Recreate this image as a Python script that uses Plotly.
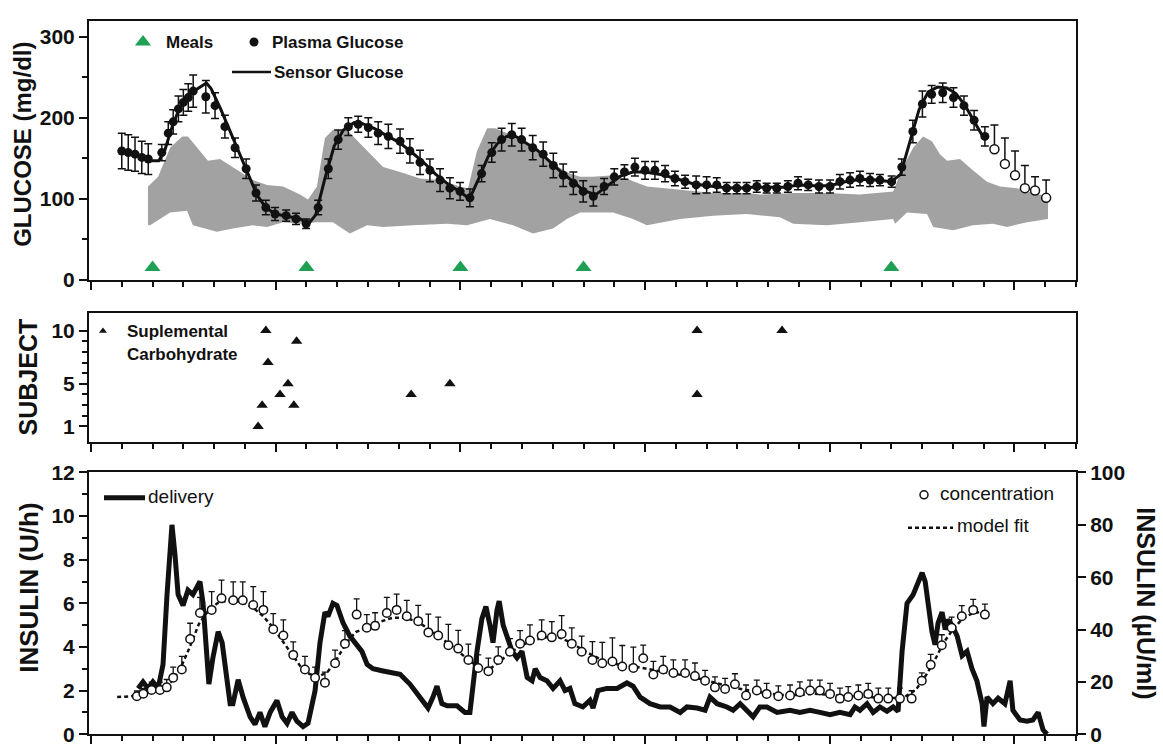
import plotly.graph_objects as go

# ---------------- data (time in hours from start of study) ----------------
meal_t = [2.0, 7.0, 12.0, 16.0, 26.0]
meal_y = [15, 15, 15, 15, 15]

plasma_t = [1.00, 1.21, 1.43, 1.65, 1.86, 2.30, 2.51, 2.67, 2.84, 3.00, 3.16, 3.32, 3.73, 4.03,
            4.35, 4.68, 5.04, 5.36, 5.68, 5.98, 6.34, 6.66, 6.99, 7.38, 7.71, 8.03, 8.36, 8.68,
            9.01, 9.33, 9.66, 10.04, 10.36, 10.69, 11.01, 11.34, 11.66, 11.99, 12.31, 12.69,
            13.02, 13.34, 13.67, 13.99, 14.35, 14.69, 15.02, 15.34, 15.67, 15.99, 16.32, 16.67,
            17.00, 17.33, 17.67, 18.00, 18.32, 18.65, 18.97, 19.30, 19.66, 20.00, 20.33, 20.65,
            20.98, 21.30, 21.63, 21.95, 22.28, 22.64, 22.97, 23.30, 23.65, 24.01, 24.33, 24.66,
            24.98, 25.31, 25.63, 26.01, 26.34, 26.70, 27.01, 27.31, 27.67, 28.02, 28.36, 28.69,
            29.04]
plasma_mgdl = [159, 157, 155, 151, 149, 157, 181, 195, 211, 219, 225, 233, 226, 215,
               189, 163, 137, 107, 89, 81, 79, 75, 69, 89, 137, 173, 189, 192,
               188, 181, 177, 171, 159, 145, 135, 123, 113, 109, 101, 131,
               157, 173, 179, 173, 163, 155, 141, 129, 119, 109, 103, 115,
               127, 133, 139, 135, 135, 131, 125, 121, 117, 117, 117, 113,
               113, 113, 115, 113, 113, 115, 119, 117, 115, 115, 121, 123,
               125, 123, 123, 121, 139, 183, 217, 229, 231, 225, 215, 197,
               177]
plasma_err = [22, 22, 21, 20, 19, 10, 14, 15, 16, 16, 17, 20, 20, 16,
              14, 12, 12, 10, 9, 8, 7, 7, 6, 9, 12, 12, 11, 10,
              12, 14, 15, 15, 15, 15, 14, 14, 13, 11, 11, 10,
              12, 14, 14, 14, 15, 15, 15, 14, 14, 13, 12, 10,
              10, 9, 11, 11, 11, 10, 9, 8, 11, 10, 9, 7,
              7, 7, 7, 6, 6, 7, 8, 7, 8, 8, 9, 9,
              9, 8, 7, 7, 10, 14, 16, 11, 12, 12, 12, 12,
              12]

late_t = [29.35, 29.69, 30.02, 30.34, 30.67, 31.03]
late_mgdl = [161, 143, 129, 113, 110, 101]
late_err = [30, 32, 30, 28, 17, 22]

sensor_t = [1.85, 2.2, 2.4, 2.6, 2.8, 3.0, 3.3, 3.6, 3.75, 3.9, 4.2, 4.5, 4.8, 5.1, 5.4, 5.7,
            6.0, 6.4, 6.8, 7.05, 7.3, 7.6, 7.9, 8.2, 8.55, 8.8, 9.2, 9.6, 10.0, 10.4, 10.8,
            11.2, 11.6, 12.0, 12.3, 12.6, 12.9, 13.2, 13.5, 13.8, 14.1, 14.5, 14.9, 15.3,
            15.7, 16.0, 16.4, 16.8, 17.2, 17.6, 18.0, 18.5, 19.0, 19.5, 20.0, 20.5, 21.0,
            21.5, 22.0, 22.5, 23.0, 23.5, 24.0, 24.5, 25.0, 25.5, 26.0, 26.3, 26.6, 26.9,
            27.2, 27.5, 27.8, 28.1, 28.4, 28.7, 29.0]
sensor_mgdl = [147, 147, 160, 185, 205, 220, 232, 240, 243, 236, 212, 185, 158, 130, 104, 88,
               81, 78, 75, 68, 80, 125, 165, 185, 194, 193, 187, 178, 170, 158, 145,
               130, 118, 108, 100, 125, 152, 168, 177, 177, 170, 160, 146, 132,
               120, 110, 105, 117, 128, 133, 133, 130, 125, 119, 116, 114, 113,
               114, 114, 114, 117, 116, 116, 121, 124, 123, 121, 130, 170, 210,
               232, 238, 237, 230, 215, 195, 175]

band_hi_t = [1.85, 2.18, 2.57, 2.96, 3.15, 3.54, 3.80, 4.19, 4.61, 5.26, 5.72, 6.24, 6.79, 7.05,
             7.34, 7.60, 7.86, 8.32, 8.67, 8.97, 9.49, 10.04, 10.69, 11.34, 11.99, 12.25,
             12.54, 12.87, 13.13, 13.52, 13.94, 14.49, 15.01, 15.56, 15.89, 16.31, 16.96,
             17.51, 18.06, 18.58, 19.14, 19.69, 20.21, 21.31, 21.73, 22.81, 23.91, 24.98,
             26.06, 26.38, 26.71, 27.03, 27.32, 27.58, 27.81, 28.23, 28.65, 29.11, 29.53,
             30.08, 30.60, 31.09]
band_hi = [115, 127, 163, 177, 177, 159, 147, 149, 139, 123, 117, 115, 105, 99,
           115, 175, 185, 185, 171, 159, 139, 133, 125, 123, 115, 113,
           159, 187, 187, 181, 171, 159, 143, 131, 127, 127, 129,
           123, 115, 113, 111, 109, 107, 107, 105, 107, 107, 105,
           109, 139, 163, 177, 171, 155, 147, 149, 135, 121, 115,
           113, 107, 103]
band_lo_t = [1.85, 1.92, 2.57, 3.12, 3.31, 4.09, 4.61, 5.26, 5.72, 6.24, 6.79, 7.34, 7.86, 8.41,
             8.97, 9.49, 10.46, 11.57, 12.22, 12.96, 13.71, 14.36, 15.01, 15.46, 15.89,
             16.96, 17.61, 18.06, 18.58, 19.14, 20.21, 21.31, 22.38, 22.81, 23.91, 24.98,
             26.06, 26.12, 26.51, 27.16, 27.36, 28.01, 28.65, 29.30, 29.76, 30.41, 31.09]
band_lo = [67, 67, 83, 85, 67, 59, 63, 67, 65, 71, 69, 71, 71, 57,
           67, 65, 67, 69, 67, 75, 67, 57, 63, 75, 83,
           83, 75, 67, 71, 75, 79, 81, 77, 69, 67, 71,
           75, 69, 83, 81, 65, 61, 67, 69, 65, 71, 75]

carb_t = [5.68, 6.68, 5.75, 6.40, 6.14, 5.56, 6.59, 5.43, 10.40, 11.66, 19.69, 19.69, 22.45]
carb_subject = [10, 9, 7, 5, 4, 3, 3, 1, 4, 5, 10, 4, 10]

delivery_t = [1.53, 1.69, 1.85, 2.01, 2.18, 2.34, 2.47, 2.57, 2.63, 2.73, 2.83, 2.99, 3.15, 3.31,
              3.44, 3.54, 3.64, 3.77, 3.83, 3.96, 4.13, 4.26, 4.42, 4.52, 4.61, 4.78, 4.94,
              5.17, 5.33, 5.49, 5.65, 5.82, 6.04, 6.21, 6.37, 6.53, 6.69, 6.89, 7.05, 7.28,
              7.44, 7.60, 7.70, 7.86, 7.99, 8.19, 8.41, 8.64, 8.80, 8.97, 9.16, 9.49, 9.81,
              10.04, 10.36, 10.69, 10.95, 11.11, 11.24, 11.40, 11.57, 11.89, 12.15, 12.31,
              12.41, 12.54, 12.70, 12.83, 12.96, 13.06, 13.19, 13.26, 13.39, 13.52, 13.68,
              13.84, 14.00, 14.17, 14.33, 14.43, 14.59, 14.81, 15.01, 15.24, 15.40, 15.56,
              15.72, 15.98, 16.21, 16.31, 16.47, 16.76, 17.09, 17.41, 17.61, 17.84, 18.16,
              18.49, 18.81, 19.14, 19.36, 19.69, 19.95, 20.11, 20.34, 20.66, 20.86, 21.09,
              21.31, 21.51, 21.73, 21.96, 22.29, 22.71, 23.03, 23.36, 23.68, 24.01, 24.33,
              24.66, 24.82, 24.98, 25.21, 25.41, 25.63, 25.86, 26.06, 26.22, 26.35, 26.51,
              26.71, 26.87, 27.00, 27.10, 27.19, 27.32, 27.42, 27.52, 27.65, 27.75, 27.84,
              27.97, 28.14, 28.30, 28.46, 28.62, 28.78, 28.95, 29.01, 29.11, 29.30, 29.47,
              29.69, 29.86, 29.95, 30.18, 30.41, 30.60, 30.77, 30.93, 31.06]
delivery_uh = [2.1, 2.4, 2.1, 2.4, 2.1, 3.2, 6.4, 8.8, 9.6, 8.2, 6.4, 5.9, 6.6, 6.4,
               6.7, 7.0, 6.0, 3.5, 2.3, 3.5, 4.7, 4.2, 2.3, 1.4, 1.4, 2.5, 1.7,
               0.8, 0.45, 1.0, 0.35, 1.0, 1.55, 0.8, 0.5, 1.0, 0.6, 0.35, 0.5, 2.0,
               4.2, 5.6, 5.4, 6.0, 5.9, 5.1, 4.5, 4.1, 3.8, 3.2, 3.0, 2.9, 2.8,
               2.75, 2.3, 1.7, 1.2, 1.7, 2.2, 1.4, 1.3, 1.3, 1.0, 1.0,
               2.3, 3.8, 5.3, 5.85, 5.0, 4.2, 5.7, 6.1, 5.0, 4.4, 3.8,
               3.5, 3.8, 2.6, 2.45, 3.0, 2.6, 2.45, 2.1, 2.45, 2.0, 2.1,
               1.4, 1.25, 1.55, 1.2, 2.0, 2.1, 2.1, 2.35, 2.2, 1.7, 1.4,
               1.25, 1.25, 1.0, 1.25, 1.2, 1.1, 1.7, 1.4, 1.25, 1.1, 1.4,
               1.1, 0.8, 1.25, 1.25, 1.0, 1.1, 1.0, 1.1, 1.0, 0.9, 1.0,
               0.9, 1.25, 1.1, 1.4, 1.0, 1.25, 1.05, 1.25, 1.05, 3.8, 6.0,
               6.4, 7.0, 7.4, 7.0, 6.0, 4.7, 4.1, 5.1, 5.6, 4.8, 5.25,
               5.0, 4.5, 3.6, 3.8, 3.0, 2.45, 1.4, 0.35, 1.7, 1.4, 1.65,
               1.4, 2.45, 1.1, 0.65, 0.6, 0.65, 1.0, 0.2, 0.0]

conc_t = [1.49, 1.70, 1.97, 2.24, 2.46, 2.67, 2.95, 3.22, 3.54, 3.92, 4.24, 4.62, 4.93, 5.27,
          5.60, 5.92, 6.25, 6.57, 6.95, 7.28, 7.60, 7.93, 8.25, 8.63, 8.96, 9.23, 9.61, 9.93,
          10.26, 10.63, 10.96, 11.28, 11.61, 11.93, 12.26, 12.58, 12.91, 13.23, 13.61, 13.94,
          14.26, 14.64, 14.97, 15.29, 15.62, 15.94, 16.29, 16.61, 16.94, 17.26, 17.62, 17.94,
          18.27, 18.59, 18.92, 19.30, 19.62, 19.95, 20.27, 20.60, 20.92, 21.28, 21.63, 21.95,
          22.33, 22.71, 23.03, 23.36, 23.68, 24.01, 24.33, 24.60, 24.93, 25.25, 25.58, 25.90,
          26.28, 26.66, 26.99, 27.28, 27.64, 27.96, 28.29, 28.66, 29.04]
conc_uuml = [14.5, 15.5, 16.9, 16.9, 17.9, 21.6, 24.7, 36.4, 46.3, 47.5, 51.9, 51.2, 51.2, 49.4,
             47.5, 40.1, 37.7, 30.3, 24.7, 21.6, 19.7, 27.1, 34.6, 45.7, 40.7, 41.4, 46.3, 47.5,
             45.1, 43.2, 38.9, 37.7, 34.0, 32.7, 28.4, 25.3, 24.1, 28.4, 31.5, 34.6,
             35.8, 37.7, 37.0, 38.3, 34.6, 31.5, 28.4, 27.1, 27.8, 25.9, 25.3, 29.0,
             22.8, 24.7, 23.4, 23.4, 22.2, 20.4, 17.9, 17.3, 19.1, 14.8, 16.7, 15.4,
             14.5, 14.8, 16.0, 16.7, 16.7, 15.4, 13.6, 14.2, 14.8, 15.4, 13.6, 13.6,
             13.6, 13.6, 20.4, 26.5, 34.0, 40.7, 45.1, 47.5, 45.7]
conc_err = [2, 2, 3, 3, 3, 4, 5, 6, 6, 7, 7, 7, 7, 7,
            7, 6, 6, 5, 5, 4, 4, 5, 5, 6, 5, 5, 6, 6,
            6, 6, 7, 7, 8, 7, 6, 5, 5, 5, 5, 5,
            6, 6, 6, 7, 6, 6, 7, 8, 9, 8, 8, 5,
            5, 5, 5, 5, 5, 4, 4, 4, 4, 4, 4, 4,
            4, 4, 4, 4, 4, 4, 4, 4, 4, 4, 4, 4,
            4, 3, 3, 4, 4, 4, 4, 4, 4]

fit_t = [0.85, 1.3, 1.7, 2.0, 2.3, 2.6, 2.9, 3.2, 3.5, 3.8, 4.1, 4.4, 4.7, 5.0, 5.3, 5.6, 5.9,
         6.2, 6.5, 6.8, 7.1, 7.4, 7.7, 8.0, 8.3, 8.6, 9.0, 9.4, 9.8, 10.2, 10.6, 11.0, 11.4,
         11.8, 12.2, 12.6, 12.9, 13.2, 13.6, 14.0, 14.4, 14.8, 15.2, 15.6, 16.0, 16.4, 16.8,
         17.2, 17.6, 18.0, 18.5, 19.0, 19.5, 20.0, 20.5, 21.0, 21.5, 22.0, 22.5, 23.0, 23.5,
         24.0, 24.5, 25.0, 25.5, 26.0, 26.4, 26.8, 27.1, 27.4, 27.7, 28.0, 28.3, 28.6, 29.0]
fit_uuml = [14.2, 14.5, 15.5, 16.5, 17.5, 20, 25, 33, 42, 47, 50, 51, 51, 50, 48, 45, 41,
            36, 31, 26, 23, 22, 24, 29, 35, 39, 41, 43, 44.5, 44.5, 43, 40, 36.5,
            33, 29, 25.5, 24.5, 27, 31, 34, 36, 37, 37, 35, 32, 29.5, 27.5,
            26.5, 26, 25, 24, 23, 22, 20.5, 19, 17.5, 16.5, 15.5, 15, 15, 15.5,
            15, 14.5, 14.5, 14, 13.8, 14, 17, 22, 28, 35, 40, 44, 46, 47]

# ---------------- styling helpers ----------------
W, H = 1163, 752
FONT = "Liberation Sans, Arial, sans-serif"
INK = "#111111"
GREEN = "#1fa055"
BAND = "#a2a2a2"
X_RANGE = [-0.065, 32.0]
X_DOMAIN = [89 / W, 1076 / W]

def bold(size):
    return dict(family=FONT, size=size, color=INK, weight="bold")

def time_axis(anchor):
    return dict(domain=X_DOMAIN, range=X_RANGE, anchor=anchor, showticklabels=False,
                ticks="outside", tick0=0, dtick=6, ticklen=8, tickwidth=1.5, tickcolor=INK,
                minor=dict(ticks="outside", tick0=0, dtick=1, ticklen=5, tickwidth=1.5,
                           tickcolor=INK, showgrid=False),
                showline=True, linewidth=2, linecolor=INK, mirror=True,
                showgrid=False, zeroline=False, fixedrange=True)

fig = go.Figure()

# ---------------- glucose panel ----------------
fig.add_trace(go.Scatter(
    x=band_hi_t + band_lo_t[::-1], y=band_hi + band_lo[::-1],
    mode="lines", fill="toself", fillcolor=BAND, line=dict(width=0),
    xaxis="x", yaxis="y", showlegend=False, hoverinfo="skip"))
fig.add_trace(go.Scatter(
    x=sensor_t, y=sensor_mgdl, mode="lines", line=dict(color=INK, width=3),
    xaxis="x", yaxis="y", showlegend=False))
fig.add_trace(go.Scatter(
    x=plasma_t, y=plasma_mgdl, mode="markers",
    marker=dict(symbol="circle", size=9, color=INK),
    error_y=dict(type="data", array=plasma_err, color=INK, thickness=1.5, width=4),
    xaxis="x", yaxis="y", showlegend=False))
fig.add_trace(go.Scatter(
    x=late_t, y=late_mgdl, mode="markers",
    marker=dict(symbol="circle", size=9, color="white", line=dict(color=INK, width=1.5)),
    error_y=dict(type="data", symmetric=False, array=late_err,
                 arrayminus=[0] * len(late_err), color=INK, thickness=1.5, width=4),
    xaxis="x", yaxis="y", showlegend=False))
fig.add_trace(go.Scatter(
    x=meal_t, y=meal_y, mode="markers",
    marker=dict(symbol="triangle-up", size=14, color=GREEN),
    xaxis="x", yaxis="y", showlegend=False))

# ---------------- supplemental carbohydrate panel ----------------
fig.add_trace(go.Scatter(
    x=carb_t, y=carb_subject, mode="markers",
    marker=dict(symbol="triangle-up", size=10, color=INK),
    xaxis="x2", yaxis="y2", showlegend=False))

# ---------------- insulin panel ----------------
fig.add_trace(go.Scatter(
    x=delivery_t, y=delivery_uh, mode="lines", line=dict(color=INK, width=5),
    xaxis="x3", yaxis="y3", showlegend=False))
fig.add_trace(go.Scatter(
    x=fit_t, y=fit_uuml, mode="lines", line=dict(color=INK, width=2.5, dash="4px,3px"),
    xaxis="x3", yaxis="y4", showlegend=False))
fig.add_trace(go.Scatter(
    x=conc_t, y=conc_uuml, mode="markers",
    marker=dict(symbol="circle", size=8.5, color="white", line=dict(color=INK, width=1.5)),
    error_y=dict(type="data", symmetric=False, array=conc_err,
                 arrayminus=[0] * len(conc_err), color=INK, thickness=1.3, width=3),
    xaxis="x3", yaxis="y4", showlegend=False))

# ---------------- legend keys (drawn on a full-page pixel overlay) ----------------
fig.add_trace(go.Scatter(x=[143], y=[31], mode="markers",
                         marker=dict(symbol="triangle-up", size=14, color=GREEN),
                         xaxis="x5", yaxis="y5", showlegend=False))
fig.add_trace(go.Scatter(x=[254], y=[31], mode="markers",
                         marker=dict(symbol="circle", size=9, color=INK),
                         xaxis="x5", yaxis="y5", showlegend=False))
fig.add_trace(go.Scatter(x=[232, 271], y=[62, 62], mode="lines",
                         line=dict(color=INK, width=2.5),
                         xaxis="x5", yaxis="y5", showlegend=False))
fig.add_trace(go.Scatter(x=[103], y=[329], mode="markers",
                         marker=dict(symbol="triangle-up", size=7, color=INK),
                         xaxis="x5", yaxis="y5", showlegend=False))
fig.add_trace(go.Scatter(x=[104, 145], y=[501, 501], mode="lines",
                         line=dict(color=INK, width=5),
                         xaxis="x5", yaxis="y5", showlegend=False))
fig.add_trace(go.Scatter(x=[924], y=[498], mode="markers",
                         marker=dict(symbol="circle", size=8, color="white",
                                     line=dict(color=INK, width=1.5)),
                         xaxis="x5", yaxis="y5", showlegend=False))
fig.add_trace(go.Scatter(x=[908, 953], y=[532, 532], mode="lines",
                         line=dict(color=INK, width=2.5, dash="4px,3px"),
                         xaxis="x5", yaxis="y5", showlegend=False))

def label(x, y, text, font, **kw):
    d = dict(x=x, y=y, xref="x5", yref="y5", text=text, showarrow=False, font=font,
             xanchor="left", yanchor="middle")
    d.update(kw)
    return d

annotations = [
    label(164, 31, "Meals", bold(17)),
    label(270, 31, "Plasma Glucose", bold(17)),
    label(272, 62, "Sensor Glucose", bold(17)),
    label(125, 330, "Suplemental", bold(17)),
    label(125, 353, "Carbohydrate", bold(17)),
    label(146, 500, "delivery", dict(family=FONT, size=19, color=INK)),
    label(938, 497, "concentration", dict(family=FONT, size=19, color=INK)),
    label(955, 530, "model fit", dict(family=FONT, size=19, color=INK)),
    label(23, 137, "GLUCOSE (mg/dl)", bold(24), xanchor="center", textangle=-90),
    label(28, 377, "SUBJECT", bold(25), xanchor="center", textangle=-90),
    label(29, 594, "INSULIN (U/h)", bold(26), xanchor="center", textangle=-90),
    label(1146, 610, "INSULIN (µU/ml)", bold(25), xanchor="center", textangle=90),
]

yaxis_common = dict(ticks="outside", ticklen=8, tickwidth=1.5, tickcolor=INK,
                    tickfont=bold(21), showline=True, linewidth=2, linecolor=INK,
                    showgrid=False, zeroline=False, fixedrange=True)

fig.update_layout(
    width=W, height=H, margin=dict(l=0, r=0, t=0, b=0),
    paper_bgcolor="white", plot_bgcolor="rgba(0,0,0,0)",
    font=dict(family=FONT, color=INK), showlegend=False,
    xaxis=time_axis("y"),
    xaxis2=time_axis("y2"),
    xaxis3=time_axis("y3"),
    yaxis=dict(domain=[1 - 276 / H, 1 - 9 / H], range=[0, 320], anchor="x",
               tickvals=[0, 100, 200, 300], mirror=True,
               minor=dict(ticks="outside", dtick=50, tick0=0, ticklen=5, tickwidth=1.5,
                          tickcolor=INK, showgrid=False),
               **yaxis_common),
    yaxis2=dict(domain=[1 - 444 / H, 1 - 311 / H], range=[-0.5, 11.6], anchor="x2",
                tickvals=[1, 5, 10], mirror=True,
                minor=dict(ticks="outside", tickvals=list(range(1, 11)), ticklen=5,
                           tickwidth=1.5, tickcolor=INK, showgrid=False),
                **yaxis_common),
    yaxis3=dict(domain=[1 - 745 / H, 1 - 475 / H], range=[0, 12], anchor="x3",
                tick0=0, dtick=2,
                minor=dict(ticks="outside", dtick=1, tick0=0, ticklen=5, tickwidth=1.5,
                           tickcolor=INK, showgrid=False),
                **yaxis_common),
    yaxis4=dict(range=[0, 100], overlaying="y3", side="right", anchor="x3",
                tick0=0, dtick=20, **yaxis_common),
    xaxis5=dict(domain=[0, 1], range=[0, W], anchor="y5", visible=False, fixedrange=True),
    yaxis5=dict(domain=[0, 1], range=[H, 0], anchor="x5", visible=False, fixedrange=True),
    annotations=annotations,
)

fig.write_html("out.html")
